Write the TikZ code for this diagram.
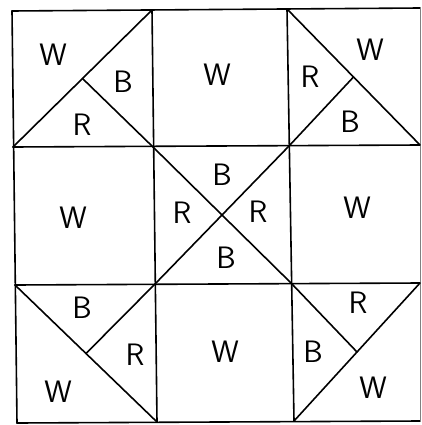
\documentclass[tikz,border=0pt]{standalone}
\usetikzlibrary{calc}

\begin{document}
\begin{tikzpicture}[x=1pt, y=-1pt, line width=1.6pt, line cap=round,
    patch/.style={font=\fontsize{31}{31}\selectfont\sffamily, inner sep=0pt}]
    \useasboundingbox (0,0) rectangle (421,425);

    % corners of the nine patches
    \coordinate (a0) at (12,11);  \coordinate (a1) at (152,10);
    \coordinate (a2) at (287,9);  \coordinate (a3) at (420,8);
    \coordinate (b0) at (13,147); \coordinate (b1) at (153,147);
    \coordinate (b2) at (289,146); \coordinate (b3) at (420,145);
    \coordinate (c0) at (15,285); \coordinate (c1) at (155,284);
    \coordinate (c2) at (291,283); \coordinate (c3) at (420,283);
    \coordinate (d0) at (17,423); \coordinate (d1) at (157,422);
    \coordinate (d2) at (294,421); \coordinate (d3) at (420,421);

    % grid
    \draw (a0) -- (a3);
    \draw (b0) -- (b3);
    \draw (c0) -- (c3);
    \draw (d0) -- (d3);
    \draw (a0) -- (d0);
    \draw (a1) -- (d1);
    \draw (a2) -- (d2);
    \draw[line width=0.6pt, gray] (a3) -- (d3);

    % triangles
    \draw (b0) -- (a1);
    \draw ($(b0)!0.5!(a1)$) -- (b1);
    \draw (a2) -- (b3);
    \draw ($(a2)!0.5!(b3)$) -- (b2);
    \draw (b1) -- (c2);
    \draw (b2) -- (c1);
    \draw (c0) -- (d1);
    \draw (c1) -- ($(c0)!0.5!(d1)$);
    \draw (d2) -- (c3);
    \draw (c2) -- ($(d2)!0.5!(c3)$);

    % colours of the patches
    \foreach \name/\pos/\lab in {
        tlW/{(53,55)}/W, tlB/{(123,82)}/B, tlR/{(82,125)}/R,
        tmW/{(217,75)}/W,
        trW/{(370,50)}/W, trR/{(310,77)}/R, trB/{(350,122)}/B,
        mlW/{(73,218)}/W,
        mtB/{(222,175)}/B, mlR/{(182,213)}/R, mrR/{(258,212)}/R, mbB/{(226,258)}/B,
        mrW/{(357,208)}/W,
        blB/{(82,308)}/B, blR/{(135,355)}/R, blW/{(58,392)}/W,
        bmW/{(225,352)}/W,
        brR/{(358,303)}/R, brB/{(313,352)}/B, brW/{(373,388)}/W} {
        \node[patch] (\name) at \pos {\lab};
    }
\end{tikzpicture}
\end{document}
